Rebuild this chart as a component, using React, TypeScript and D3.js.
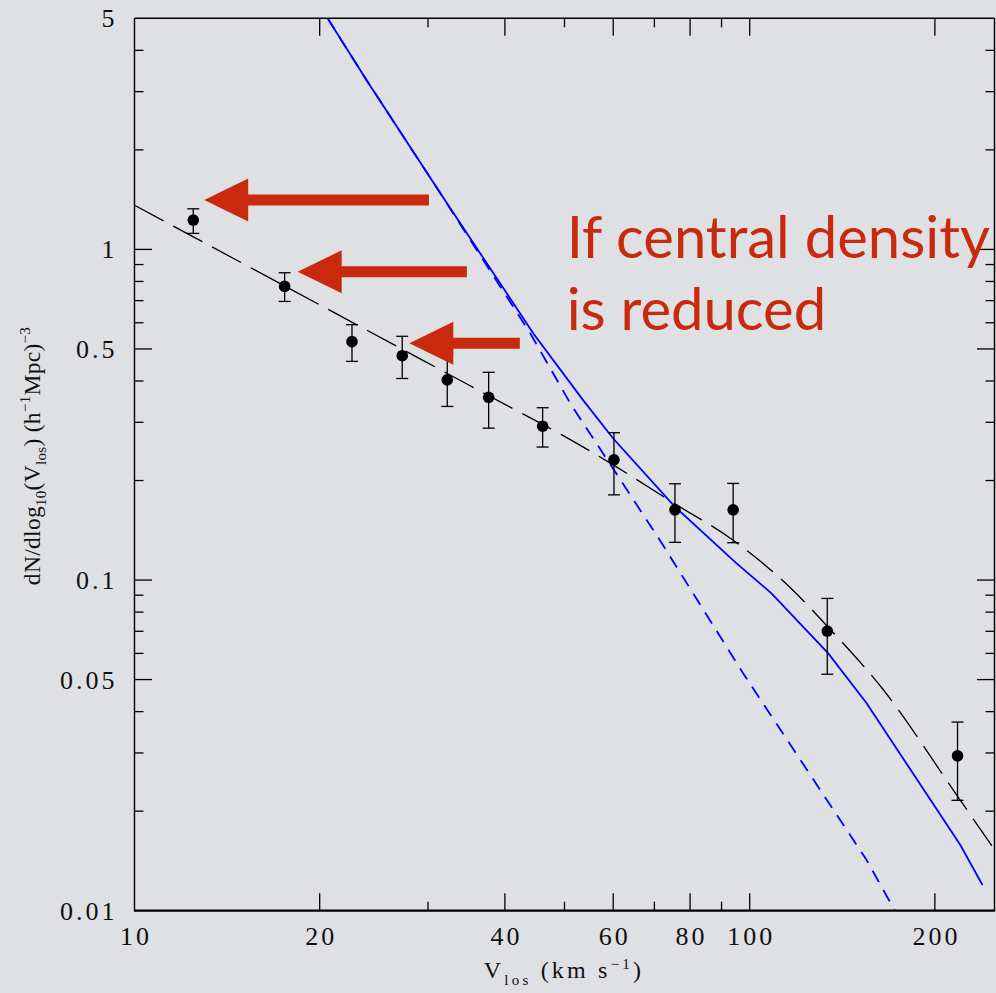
import React from 'react';
import * as d3 from 'd3';

// Observed points: V_los (km/s), dN/dlog10(V), error bar upper / lower
const obsV = [12.46, 17.54, 22.57, 27.24, 32.24, 37.64, 46.07, 60.17, 75.6, 94.0, 133.7, 217.7];
const obsN = [1.227, 0.773, 0.526, 0.477, 0.403, 0.357, 0.292, 0.231, 0.163, 0.163, 0.0701, 0.0294];
const obsHi = [1.327, 0.85, 0.592, 0.546, 0.485, 0.425, 0.332, 0.279, 0.1955, 0.196, 0.088, 0.0372];
const obsLo = [1.118, 0.696, 0.4585, 0.407, 0.335, 0.288, 0.2525, 0.181, 0.13, 0.1297, 0.0519, 0.02157];

// Black long-dashed fit
const fitV = [10, 20, 30, 40, 50, 60, 75.6, 94, 116, 134, 165, 218, 250];
const fitN = [1.36, 0.68, 0.453, 0.34, 0.272, 0.223, 0.17, 0.132, 0.0954, 0.0722, 0.0465, 0.0221, 0.0153];

// Blue solid model
const solidV = [20.6, 23.84, 31.4, 44.5, 53.6, 60.0, 75.6, 95.2, 108.5, 134.2, 154.9, 220, 239];
const solidN = [5, 3.25, 1.48, 0.557, 0.35, 0.268, 0.1666, 0.1123, 0.0912, 0.06, 0.0424, 0.0158, 0.01196];

// Blue dashed model
const dashV = [20.6, 23.84, 31.4, 44.0, 51.3, 59.7, 71.45, 97.6, 154.9, 172.2];
const dashN = [5, 3.25, 1.48, 0.557, 0.338, 0.22, 0.132, 0.0522, 0.01423, 0.01];

// Annotation arrows: tip V, tip N, tail V
const arrowTipV = [12.98, 18.42, 27.97];
const arrowTipN = [1.41, 0.856, 0.52];
const arrowTailV = [30.1, 34.7, 42.3];

// Axis ticks
const xMajor = [20, 40, 60, 80, 100, 200];
const xMinor = [30, 50, 70, 90];
const xLabels = [10, 20, 40, 60, 80, 100, 200];
const yMajor = [0.05, 0.1, 0.5, 1];
const yMinor = [0.02, 0.03, 0.04, 0.06, 0.07, 0.08, 0.09, 0.2, 0.3, 0.4, 0.6, 0.7, 0.8, 0.9, 2, 3, 4];
const yLabels = [0.01, 0.05, 0.1, 0.5, 1, 5];

const annotLines = ['If central density', 'is reduced'];
const annotV = 50.4;
const annotN = [0.939, 0.57];

const W = 996;
const H = 993;
const BG = '#dfe0e3';
const RED = '#c9290c';
const SERIF = '"Liberation Serif", "Times New Roman", serif';

export default function App() {
  const x = d3.scaleLog().domain([10, 250]).range([134.5, 994.5]);
  const y = d3.scaleLog().domain([0.01, 5]).range([910.7, 18.3]);
  const [x0, x1] = x.range();
  const [y0, y1] = y.range();

  const line = (vs: number[], ns: number[], curve: d3.CurveFactory = d3.curveLinear) =>
    d3
      .line<number>()
      .curve(curve)
      .x((_, i) => x(vs[i]))
      .y((_, i) => y(ns[i]))(vs.map((_, i) => i)) || '';

  const majLen = 17.5;
  const minLen = 9;

  const arrows = arrowTipV.map((tv, i) => {
    const tx = x(tv);
    const ty = y(arrowTipN[i]);
    const hx = tx + 44;
    const tail = x(arrowTailV[i]);
    const hh = 21.5;
    const sh = 5.5;
    return `M${tx},${ty} L${hx},${ty - hh} L${hx},${ty - sh} L${tail},${ty - sh} L${tail},${ty + sh} L${hx},${ty + sh} L${hx},${ty + hh} Z`;
  });

  const fmt = (v: number) => String(v);

  return (
    <div style={{ position: 'absolute', left: 0, top: 0, width: W, height: H, background: BG }}>
      <svg width={W} height={H} style={{ display: 'block' }}>
        <rect x={0} y={0} width={W} height={H} fill={BG} />
        <defs>
          <clipPath id="plot">
            <rect x={x0} y={y1} width={x1 - x0} height={y0 - y1} />
          </clipPath>
        </defs>

        {/* curves */}
        <g clipPath="url(#plot)" fill="none">
          <path d={line(fitV, fitN, d3.curveMonotoneX)} stroke="#000" strokeWidth={1.3} strokeDasharray="33 11" />
          <path d={line(solidV, solidN)} stroke="#0000ff" strokeWidth={1.8} />
          <path d={line(dashV, dashN)} stroke="#0000ff" strokeWidth={1.8} strokeDasharray="13 9" />
        </g>

        {/* data points */}
        <g stroke="#000" strokeWidth={1.3}>
          {obsV.map((v, i) => (
            <g key={i}>
              <line x1={x(v)} x2={x(v)} y1={y(obsHi[i])} y2={y(obsLo[i])} />
              <line x1={x(v) - 6} x2={x(v) + 6} y1={y(obsHi[i])} y2={y(obsHi[i])} />
              <line x1={x(v) - 6} x2={x(v) + 6} y1={y(obsLo[i])} y2={y(obsLo[i])} />
              <circle cx={x(v)} cy={y(obsN[i])} r={5.8} fill="#000" stroke="none" />
            </g>
          ))}
        </g>

        {/* frame */}
        <g stroke="#000" fill="none">
          <line x1={x0} x2={x0} y1={y1} y2={y0} strokeWidth={1.4} />
          <line x1={x1} x2={x1} y1={y1} y2={y0} strokeWidth={1.4} />
          <line x1={x0} x2={x1} y1={y1} y2={y1} strokeWidth={1.4} />
          <line x1={x0 - 0.5} x2={x1 + 0.5} y1={y0} y2={y0} strokeWidth={2.2} />
          {xMajor.map((v) => (
            <g key={'xM' + v}>
              <line x1={x(v)} x2={x(v)} y1={y0} y2={y0 - majLen} strokeWidth={1.3} />
              <line x1={x(v)} x2={x(v)} y1={y1} y2={y1 + majLen} strokeWidth={1.3} />
            </g>
          ))}
          {xMinor.map((v) => (
            <g key={'xm' + v}>
              <line x1={x(v)} x2={x(v)} y1={y0} y2={y0 - minLen} strokeWidth={1.3} />
              <line x1={x(v)} x2={x(v)} y1={y1} y2={y1 + minLen} strokeWidth={1.3} />
            </g>
          ))}
          {yMajor.map((v) => (
            <g key={'yM' + v}>
              <line x1={x0} x2={x0 + majLen} y1={y(v)} y2={y(v)} strokeWidth={1.3} />
              <line x1={x1} x2={x1 - majLen} y1={y(v)} y2={y(v)} strokeWidth={1.3} />
            </g>
          ))}
          {yMinor.map((v) => (
            <g key={'ym' + v}>
              <line x1={x0} x2={x0 + minLen} y1={y(v)} y2={y(v)} strokeWidth={1.3} />
              <line x1={x1} x2={x1 - minLen} y1={y(v)} y2={y(v)} strokeWidth={1.3} />
            </g>
          ))}
        </g>

        {/* tick labels */}
        <g fontFamily={SERIF} fontSize={26} fill="#111" letterSpacing={3}>
          {xLabels.map((v) => (
            <text key={'xl' + v} x={x(v) + 1.5} y={945} textAnchor="middle">
              {fmt(v)}
            </text>
          ))}
          {yLabels.map((v) => (
            <text key={'yl' + v} x={x0 - 17} y={y(v) + 9} textAnchor="end">
              {fmt(v)}
            </text>
          ))}
        </g>

        {/* axis titles */}
        <text x={564} y={978} textAnchor="middle" fontFamily={SERIF} fontSize={24} fill="#111" letterSpacing={3.2}>
          V<tspan fontSize={15} dy={7}>los</tspan>
          <tspan dy={-7}> (km  s</tspan>
          <tspan fontSize={15} dy={-9}>−1</tspan>
          <tspan dy={9}>)</tspan>
        </text>
        <text
          transform="translate(40,456) rotate(-90)"
          textAnchor="middle"
          fontFamily={SERIF}
          fontSize={23.5}
          fill="#111"
          letterSpacing={0.3}
        >
          dN/dlog<tspan fontSize={15} dy={6}>10</tspan>
          <tspan dy={-6}>(V</tspan>
          <tspan fontSize={15} dy={6}>los</tspan>
          <tspan dy={-6}>)  (h</tspan>
          <tspan fontSize={15} dy={-10}>−1</tspan>
          <tspan dy={10}>Mpc)</tspan>
          <tspan fontSize={15} dy={-10}>−3</tspan>
        </text>

        {/* annotations */}
        <g fill={RED}>
          {arrows.map((d, i) => (
            <path key={'a' + i} d={d} />
          ))}
          {annotLines.map((t, i) => (
            <text
              key={'t' + i}
              x={x(annotV)}
              y={y(annotN[i])}
              fontFamily='Lato, "Open Sans", sans-serif'
              fontSize={58}
            >
              {t}
            </text>
          ))}
        </g>
      </svg>
    </div>
  );
}
